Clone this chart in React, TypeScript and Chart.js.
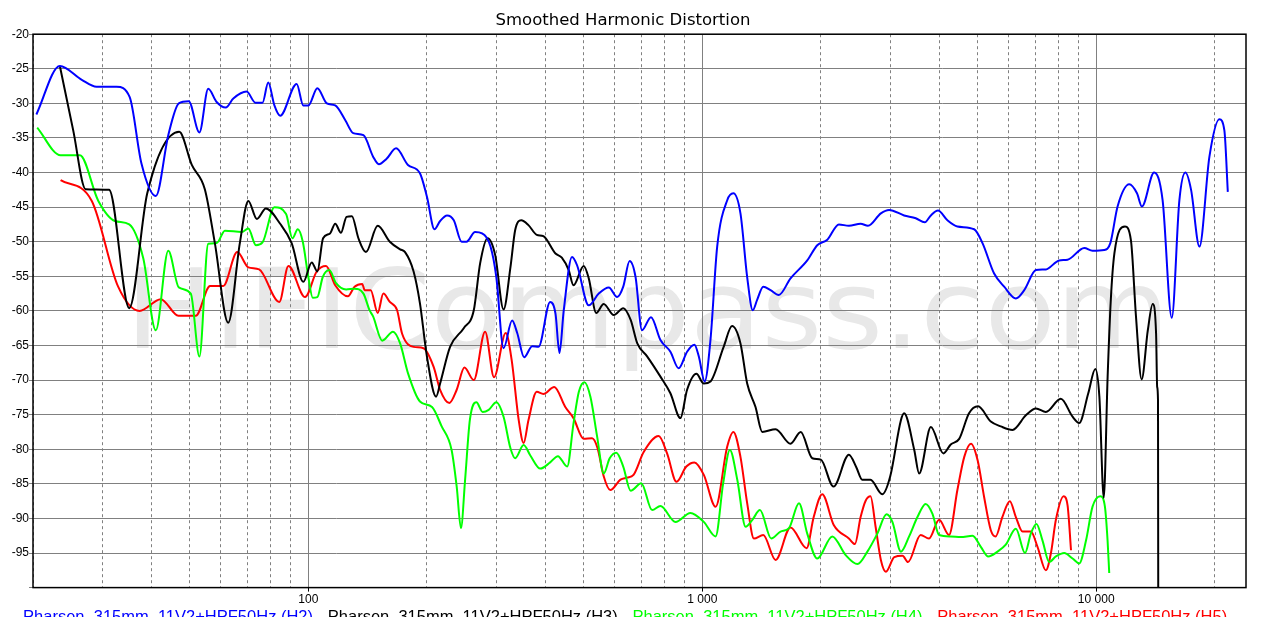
import React, { useEffect, useRef } from 'react';
import Chart from 'chart.js/auto';

const chartTitle = 'Smoothed Harmonic Distortion';
const watermarkText = 'HIFICompass.com';

const seriesNames = [
  'Pharsen_315mm_11V2+HPF50Hz (H2)',
  'Pharsen_315mm_11V2+HPF50Hz (H3)',
  'Pharsen_315mm_11V2+HPF50Hz (H4)',
  'Pharsen_315mm_11V2+HPF50Hz (H5)',
];
const seriesColors = ['#0000ff', '#000000', '#00ff00', '#ff0000'];

// frequency axis
const xMin = 20;
const xMax = 24000;
const xGridValues = [
  20, 30, 40, 50, 60, 70, 80, 90,
  100, 200, 300, 400, 500, 600, 700, 800, 900,
  1000, 2000, 3000, 4000, 5000, 6000, 7000, 8000, 9000,
  10000, 20000,
];
const xLabelValues = [100, 1000, 10000];
const xLabelTexts = ['100', '1 000', '10 000'];

// level axis (dB)
const yMin = -100;
const yMax = -20;
const yStep = 5;

// [Hz, dB]
const h2Points: [number, number][] = [
  [20.4, -31.6], [23.4, -24.6], [26.6, -26.6], [29, -27.6], [32.6, -27.6], [35.2, -29.1],
  [37.7, -38.7], [41, -43.4], [44.1, -34.6], [46.9, -30], [49.7, -29.7], [52.9, -34.2],
  [55.7, -27.9], [58.5, -29.8], [61.7, -30.6], [64.5, -29.3], [69.7, -28.3], [73.4, -29.9],
  [76.5, -29.9], [79.1, -27], [82, -30.3], [84.8, -31.8], [93.4, -27.2], [97.1, -30.3],
  [100, -30.3], [105.4, -27.8], [111.4, -30], [117, -30.3], [124, -32.4], [130, -34.3],
  [138, -34.6], [146, -37.7], [151, -38.8], [158, -38], [167, -36.5], [179, -38.9],
  [192, -40.1], [200, -43.5], [209, -48.2], [216, -47], [225, -46.2], [234, -46.9],
  [245, -50], [252, -50], [265, -48.6], [276, -48.8], [290, -50.7], [300, -55.1],
  [313, -65.4], [329, -61.4], [339, -63.2], [353, -66.7], [370, -65.1], [384, -65.2],
  [411, -58.7], [424, -60.4], [434, -66.1], [445, -59.9], [467, -52.2], [481, -53.4],
  [515, -59.2], [546, -57.5], [579, -56.6], [608, -58], [630, -56.5], [654, -52.8],
  [677, -55.1], [703, -62.8], [741, -60.9], [783, -64.2], [830, -65.9], [871, -68.3],
  [915, -65.9], [955, -64.9], [980, -66.6], [1014, -70.2], [1049, -64.2], [1091, -50.7],
  [1157, -44], [1199, -43], [1250, -45.9], [1300, -55.1], [1343, -59.9], [1378, -58.4],
  [1428, -56.5], [1490, -57], [1564, -57.7], [1675, -55.3], [1847, -52.7], [1958, -50.5],
  [2077, -49.7], [2222, -47.5], [2356, -47.7], [2523, -47.4], [2634, -47.7], [2840, -45.9],
  [2980, -45.4], [3253, -46.2], [3483, -46.6], [3671, -47.2], [3804, -46.2], [3966, -45.5],
  [4190, -46.9], [4442, -47.8], [4898, -48.2], [5144, -50.2], [5506, -54.6], [5839, -56.5],
  [6252, -58.2], [6565, -57], [7030, -54.1], [7451, -54], [8053, -52.7], [8458, -52.6],
  [9325, -50.9], [9787, -51.3], [10477, -51.2], [10860, -50.2], [11330, -44.9], [12130, -41.7],
  [12690, -43], [13060, -44.9], [14030, -40], [14740, -44], [15550, -61], [16260, -44],
  [16840, -40], [17410, -42.5], [18280, -50.7], [19380, -37.7], [20540, -32.3], [21150, -33.9],
  [21580, -42.8],
];

const h3Points: [number, number][] = [
  [23.4, -24.6], [25.3, -33.9], [27.2, -42.4], [31.2, -42.5], [35.1, -59.6], [39, -43],
  [47, -34.1], [50.6, -38.9], [54.6, -42.4], [57.9, -50.2], [62.6, -61.7], [67, -50.2],
  [70.4, -44.1], [74, -46.7], [78, -45.2], [84.8, -47.4], [90.7, -50.2], [97.1, -55.8],
  [102, -53], [105.4, -54.3], [109, -49.5], [113.5, -48.8], [117, -47.4], [121, -48.7],
  [125, -46.4], [129, -46.3], [134, -49.5], [140, -51.5], [150, -47.7], [161, -50],
  [171, -51.1], [176, -51.5], [185, -54.3], [192, -58.9], [200, -66.6], [211, -72.4],
  [216, -70.5], [229, -65.2], [248, -62.5], [263, -59.9], [273, -53.1], [285, -49.5],
  [298, -51.9], [313, -59.8], [326, -53.6], [335, -48.3], [347, -46.9], [362, -47.6],
  [380, -49], [395, -49.2], [424, -51.7], [440, -52.3], [458, -54.1], [471, -56.3],
  [500, -53.5], [515, -55.3], [538, -60.3], [562, -59], [596, -60.6], [630, -59.6],
  [658, -61.3], [684, -64.7], [725, -66.6], [783, -69.5], [830, -71.9], [880, -75.5],
  [915, -71.4], [966, -69.1], [1009, -70.5], [1049, -70.2], [1133, -65.2], [1190, -62.2],
  [1250, -64.7], [1300, -70.5], [1365, -73.9], [1420, -77.5], [1535, -77.1], [1675, -79.2],
  [1778, -77.5], [1902, -81.3], [2000, -81.5], [2153, -85.4], [2356, -80.8], [2460, -82.6],
  [2547, -84.4], [2673, -84.4], [2863, -86.5], [3000, -83.9], [3193, -75.8], [3253, -74.8],
  [3452, -80.1], [3552, -83.5], [3804, -76.8], [4093, -80.6], [4272, -79.3], [4489, -78.5],
  [4755, -74.8], [5012, -73.8], [5400, -76], [5724, -76.7], [6132, -77.2], [6628, -75.1],
  [7030, -74.1], [7451, -74.6], [8130, -72.7], [8710, -75.3], [9053, -76.2], [9546, -71.9],
  [9947, -68.4], [10186, -72.4], [10450, -87], [10690, -69.5], [10890, -58.4], [11120, -51.7],
  [11830, -47.8], [12250, -49.8], [12620, -60.9], [13040, -69.9], [13520, -62.8], [13910, -59],
  [14190, -63.3], [14280, -71], [14350, -73], [14380, -120],
];

const h4Points: [number, number][] = [
  [20.5, -33.5], [23.5, -37.5], [26.3, -37.5], [29.3, -44.1], [32.3, -47], [35.1, -47.5],
  [38.1, -52.4], [41, -62.8], [44.1, -51.3], [46.9, -56.6], [50.3, -57.5], [52.9, -66.6],
  [55.7, -50.3], [58.5, -50.2], [61.4, -48.4], [67.8, -48.6], [70.4, -48.1], [73.6, -50.5],
  [76.5, -50.1], [82, -45], [87.8, -46], [91.1, -49.5], [94, -48.2], [96.8, -50],
  [100, -55.1], [102.6, -58.1], [105.4, -58], [108.8, -55.1], [113, -54.1], [117.6, -56],
  [124.7, -56.9], [131, -56.8], [138, -57.5], [143, -59.9], [146, -60.8], [154, -64.3],
  [164, -63], [171, -64.7], [179, -69], [192, -73.1], [206, -73.9], [218, -76.7],
  [231, -80.1], [238, -85.4], [244, -91.4], [250, -84.4], [257, -75.8], [267, -73.2],
  [277, -74.6], [287, -74.3], [300, -73.2], [313, -75.3], [326, -79.9], [335, -81.3],
  [352, -79.4], [366, -80.9], [388, -82.8], [411, -81.9], [430, -81], [454, -82.5],
  [471, -76.3], [486, -71.7], [502, -70.3], [520, -72.4], [541, -78.2], [562, -83.5],
  [582, -81.3], [605, -80.5], [630, -82.5], [658, -86], [700, -84.9], [746, -88.8],
  [783, -88.2], [855, -90.5], [933, -89.2], [1009, -90.5], [1081, -92.6], [1130, -84.9],
  [1175, -80.1], [1227, -84.4], [1288, -91.2], [1340, -90.2], [1401, -88.8], [1496, -92.9],
  [1580, -91.9], [1660, -91.4], [1760, -87.8], [1847, -92.2], [1958, -95.8], [2138, -92.6],
  [2312, -95.3], [2477, -96.6], [2625, -94.8], [2782, -92.2], [2936, -89.4], [3038, -90.5],
  [3193, -94.8], [3350, -92.6], [3517, -89.8], [3690, -87.9], [3838, -89.3], [3992, -92.4],
  [4272, -92.6], [4530, -92.7], [4854, -92.5], [5094, -94.1], [5320, -95.5], [5616, -94.8],
  [5894, -93.8], [6252, -91.5], [6596, -95], [6823, -92.2], [7052, -90.8], [7306, -93.2],
  [7597, -96.3], [7900, -95.5], [8295, -95], [8710, -95.8], [9053, -96.5], [9420, -93.2],
  [9787, -88.3], [10241, -86.8], [10521, -88.3], [10686, -93.2], [10790, -97.9],
];

const h5Points: [number, number][] = [
  [23.5, -41.1], [28.2, -44.1], [32.9, -56.5], [37.3, -60], [42.2, -58.3], [46.8, -60.7],
  [51.8, -60.7], [56.3, -56.4], [60.8, -56.4], [66, -51.5], [70.4, -53.7], [75, -54],
  [84.4, -58.7], [89, -53.5], [98.1, -58], [105, -54.3], [110.9, -53.5], [117, -56.3],
  [126, -57.9], [131, -56.5], [137, -56.1], [139, -57], [144, -57], [150, -60.3],
  [155, -57.5], [161, -58.7], [168, -59.9], [173, -63.3], [185, -65.2], [196, -65.4],
  [208, -68.1], [216, -71.4], [228, -73.3], [238, -71.4], [249, -68.2], [263, -70],
  [281, -63], [296, -69.6], [317, -63.2], [328, -67], [342, -75.8], [352, -79.1],
  [362, -75.8], [380, -71.7], [395, -72], [421, -71], [449, -73.9], [471, -75.5],
  [500, -78.5], [525, -78.4], [542, -79.8], [562, -83.9], [584, -85.9], [620, -84.4],
  [644, -84.1], [669, -83.7], [710, -80.4], [775, -78.1], [814, -80.6], [860, -84.7],
  [911, -82.5], [955, -81.9], [1009, -83.7], [1081, -88.3], [1157, -79.6], [1199, -77.5],
  [1250, -81.1], [1300, -87.8], [1352, -92.9], [1428, -92.4], [1535, -96], [1675, -91.3],
  [1840, -94.3], [1918, -89.8], [2016, -86.5], [2158, -91], [2356, -92.9], [2440, -93.7],
  [2523, -89.8], [2600, -87.4], [2673, -86.8], [2754, -91.2], [2840, -96], [2925, -97.7],
  [3072, -95.6], [3224, -95.4], [3329, -96.3], [3583, -92.4], [3763, -92.9], [3992, -90.2],
  [4230, -92.4], [4442, -85.9], [4624, -81.1], [4810, -79.2], [5000, -81.6], [5193, -86.9],
  [5400, -91.7], [5556, -92.6], [5777, -89.8], [6035, -87.5], [6252, -89.8], [6502, -91.9],
  [6823, -91.9], [7095, -94.1], [7451, -97.5], [7675, -95], [7900, -90.2], [8265, -86.8],
  [8458, -88.1], [8630, -94.6],
];

const allSeries = [h2Points, h3Points, h4Points, h5Points];

const isDecade = (v: number) => xLabelValues.includes(v);

// faint site name behind the curves
const watermarkPlugin = {
  id: 'watermark',
  beforeDraw(chart: any) {
    const { ctx, chartArea } = chart;
    if (!chartArea) return;
    const left = chartArea.left + 103;
    const right = chartArea.right - 86;
    const baseline = chartArea.top + 314;
    ctx.save();
    ctx.font = '111px "DejaVu Sans"';
    ctx.fillStyle = '#e8e8e8';
    ctx.textAlign = 'left';
    ctx.textBaseline = 'alphabetic';
    const m = ctx.measureText(watermarkText);
    const ink = m.actualBoundingBoxLeft + m.actualBoundingBoxRight;
    const sx = (right - left) / ink;
    ctx.translate(left, baseline);
    ctx.scale(sx, 1);
    ctx.fillText(watermarkText, m.actualBoundingBoxLeft, 0);
    ctx.restore();
  },
};

// black frame round the plot area, legend nudged a little left
const framePlugin = {
  id: 'frame',
  afterLayout(chart: any) {
    if (chart.legend) {
      chart.legend.left -= 4;
      chart.legend.right -= 4;
    }
  },
  beforeDatasetsDraw(chart: any) {
    const { ctx, chartArea } = chart;
    ctx.save();
    ctx.strokeStyle = '#000';
    ctx.lineWidth = 1.5;
    ctx.strokeRect(chartArea.left, chartArea.top, chartArea.right - chartArea.left, chartArea.bottom - chartArea.top);
    ctx.restore();
  },
};

export default function App() {
  const canvasRef = useRef<HTMLCanvasElement>(null);
  const chartRef = useRef<Chart | null>(null);

  useEffect(() => {
    if (!canvasRef.current) return;
    if (chartRef.current) chartRef.current.destroy();

    chartRef.current = new Chart(canvasRef.current, {
      type: 'line',
      data: {
        datasets: allSeries.map((pts, i) => ({
          label: seriesNames[i],
          data: pts.map(([x, y]) => ({ x, y })),
          borderColor: seriesColors[i],
          backgroundColor: seriesColors[i],
          borderWidth: 2,
          pointRadius: 0,
          fill: false,
          cubicInterpolationMode: 'monotone',
        })),
      },
      options: {
        animation: false,
        responsive: false,
        events: [],
        layout: { padding: { left: 0, right: 30, top: 0, bottom: 4 } },
        plugins: {
          title: {
            display: true,
            text: chartTitle,
            color: '#000',
            font: { family: 'DejaVu Sans', size: 16.5, weight: 'normal' },
            padding: { top: 11, bottom: 3.4 },
          },
          legend: {
            position: 'bottom',
            labels: {
              boxWidth: 4,
              boxHeight: 0,
              padding: 2.5,
              font: { family: 'Liberation Sans', size: 16.5 },
              generateLabels: (chart: any) =>
                chart.data.datasets.map((ds: any, i: number) => ({
                  text: ds.label,
                  fontColor: ds.borderColor,
                  fillStyle: 'rgba(0,0,0,0)',
                  strokeStyle: 'rgba(0,0,0,0)',
                  lineWidth: 0,
                  hidden: false,
                  datasetIndex: i,
                })),
            },
          },
          tooltip: { enabled: false },
        },
        scales: {
          x: {
            type: 'logarithmic',
            min: xMin,
            max: xMax,
            afterBuildTicks: (scale: any) => {
              scale.ticks = xGridValues.map((v) => ({ value: v }));
            },
            ticks: {
              autoSkip: false,
              maxRotation: 0,
              padding: 0.5,
              color: '#000',
              font: { family: 'Liberation Sans', size: 12 },
              callback: (value: any) => {
                const k = xLabelValues.indexOf(Number(value));
                return k >= 0 ? xLabelTexts[k] : '';
              },
            },
            grid: {
              color: '#808080',
              lineWidth: 1,
              drawTicks: true,
              tickLength: 4,
              tickColor: (ctx: any) => (ctx.tick && isDecade(ctx.tick.value) ? '#000' : 'rgba(0,0,0,0)'),
            },
            border: {
              display: false,
              dash: (ctx: any) => (ctx.tick && isDecade(ctx.tick.value) ? [] : [3, 3]),
            },
          },
          y: {
            type: 'linear',
            min: yMin,
            max: yMax,
            afterFit: (scale: any) => {
              scale.width = 33;
            },
            ticks: {
              stepSize: yStep,
              padding: 0,
              color: '#000',
              font: { family: 'Liberation Sans', size: 12 },
              callback: (value: any) => (Number(value) === yMin ? '' : String(value)),
            },
            grid: {
              color: '#808080',
              lineWidth: 1,
              drawTicks: true,
              tickLength: 4,
            },
            border: { display: false },
          },
        },
      },
      plugins: [watermarkPlugin, framePlugin],
    } as any);

    return () => {
      if (chartRef.current) chartRef.current.destroy();
      chartRef.current = null;
    };
  }, []);

  return (
    <div style={{ position: 'fixed', left: 0, top: 0, width: 1276, height: 640, background: '#fff' }}>
      <canvas ref={canvasRef} width={1276} height={640}></canvas>
    </div>
  );
}
